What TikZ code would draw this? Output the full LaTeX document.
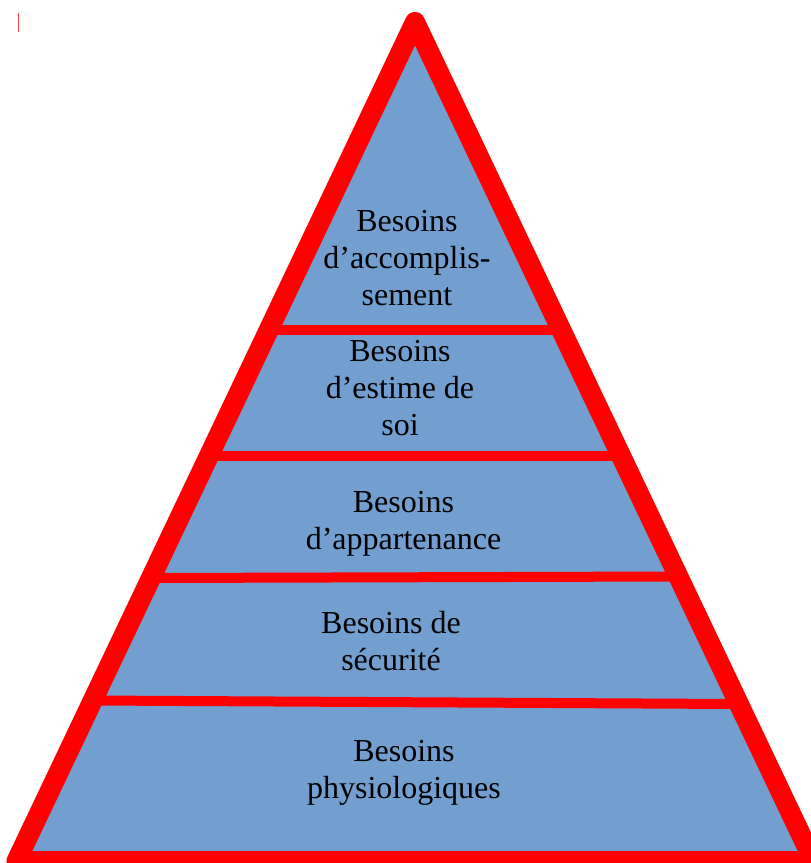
\documentclass[tikz,border=0pt]{standalone}
\usepackage{fontspec}
\setmainfont{Liberation Serif}
\usetikzlibrary{calc}
\definecolor{tierblue}{HTML}{729FCF}
\definecolor{edgered}{HTML}{FF0000}
\tikzset{
  hull/.style={draw=edgered, line width=20pt, line join=round},
  band/.style={draw=edgered, line width=10pt},
  tiertext/.style={anchor=base, align=center, inner sep=0pt,
    font=\fontsize{32}{37}\selectfont, text=black},
}
\begin{document}
\begin{tikzpicture}[x=1pt,y=-1pt]
  \useasboundingbox (0,0) rectangle (811,863);
  \coordinate (top) at (415,22);
  \coordinate (baseL) at (16.5,861);
  \coordinate (baseR) at (813.5,861);
  % stray caret mark, top left
  \coordinate (caretA) at (18,13);
  \coordinate (caretB) at (18,32);
  \draw[edgered!75, line width=1pt] (caretA) -- (caretB);
  \fill[tierblue] (top) -- (baseL) -- (baseR) -- cycle;
  % the four cuts between the levels
  \foreach \i/\l/\r in {1/0.367/0.367, 2/0.517/0.517, 3/0.6627/0.6609, 4/0.8087/0.8129} {
    \coordinate (cutL\i) at ($(top)!\l!(baseL)$);
    \coordinate (cutR\i) at ($(top)!\r!(baseR)$);
    \draw[band] (cutL\i) -- (cutR\i);
  }
  \draw[hull] (top) -- (baseL) -- (baseR) -- cycle;
  % y is the baseline of the last line
  \foreach \i/\x/\y/\lab in {1/407/305.5/{Besoins\\d’accomplis-\\sement},
                             2/400/435.5/{Besoins\\d’estime de\\soi},
                             3/403.5/549/{Besoins\\d’appartenance},
                             4/391/670.5/{Besoins de\\sécurité},
                             5/404/798.5/{Besoins\\physiologiques}} {
    \node[tiertext] (tier\i) at (\x,\y) {\lab};
  }
\end{tikzpicture}
\end{document}
